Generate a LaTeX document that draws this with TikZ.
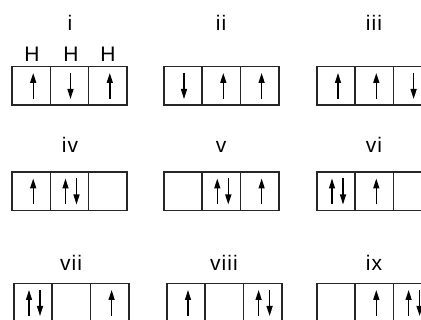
\documentclass[tikz,border=0pt]{standalone}
\usepackage{fontspec}
\newfontfamily\labfont[LetterSpace=5]{Liberation Sans}
\usetikzlibrary{positioning, arrows.meta}

\tikzset{
  cell/.style={rectangle, draw=black!85, line width=1.5pt, minimum width=38.3pt, minimum height=38.5pt, inner sep=0pt, outer sep=0pt},
  lab/.style={font=\labfont\fontsize{21}{24}\selectfont, inner sep=0pt, anchor=base},
  spin/.style={line width=1.4pt, -{Triangle[length=10pt, width=6pt]}},
  spinup/.pic={\draw[spin] (2,13) -- (2,-13);},
  spindown/.pic={\draw[spin] (1,-13) -- (1,13);},
  spinpair/.pic={\draw[spin] (-4,13) -- (-4,-13); \draw[spin] (7,-13) -- (7,13);}
}

\begin{document}
\begin{tikzpicture}[x=1pt, y=-1pt]
        \useasboundingbox (0,0) rectangle (421,320);

        % row 1
        \node[cell] (i-1) at (31.2,86) {};
        \node[cell, right=0pt of i-1] (i-2) {};
        \node[cell, right=0pt of i-2] (i-3) {};
        \node[cell] (ii-1) at (183,86) {};
        \node[cell, right=0pt of ii-1] (ii-2) {};
        \node[cell, right=0pt of ii-2] (ii-3) {};
        \node[cell] (iii-1) at (336,86) {};
        \node[cell, right=0pt of iii-1] (iii-2) {};
        \node[cell, right=0pt of iii-2] (iii-3) {};

        \node[lab] (li) at (70,31) {i};
        \node[lab] (lii) at (221,31) {ii};
        \node[lab] (liii) at (374,31) {iii};
        \node[lab] (h1) at (32,62) {H};
        \node[lab] (h2) at (71,62) {H};
        \node[lab] (h3) at (108,62) {H};

        \pic at (i-1) {spinup};
        \pic at (i-2) {spindown};
        \pic at (i-3) {spinup};
        \pic at (ii-1) {spindown};
        \pic at (ii-2) {spinup};
        \pic at (ii-3) {spinup};
        \pic at (iii-1) {spinup};
        \pic at (iii-2) {spinup};
        \pic at (iii-3) {spindown};

        % row 2
        \node[cell] (iv-1) at (31.2,191.5) {};
        \node[cell, right=0pt of iv-1] (iv-2) {};
        \node[cell, right=0pt of iv-2] (iv-3) {};
        \node[cell] (v-1) at (183,191.5) {};
        \node[cell, right=0pt of v-1] (v-2) {};
        \node[cell, right=0pt of v-2] (v-3) {};
        \node[cell] (vi-1) at (336,191.5) {};
        \node[cell, right=0pt of vi-1] (vi-2) {};
        \node[cell, right=0pt of vi-2] (vi-3) {};

        \node[lab] (liv) at (70,153) {iv};
        \node[lab] (lv) at (221,153) {v};
        \node[lab] (lvi) at (374,153) {vi};

        \pic at (iv-1) {spinup};
        \pic at (iv-2) {spinpair};
        \pic at (v-2) {spinpair};
        \pic at (v-3) {spinup};
        \pic at (vi-1) {spinpair};
        \pic at (vi-2) {spinup};

        % row 3
        \node[cell] (vii-1) at (33,303) {};
        \node[cell, right=0pt of vii-1] (vii-2) {};
        \node[cell, right=0pt of vii-2] (vii-3) {};
        \node[cell] (viii-1) at (186,303) {};
        \node[cell, right=0pt of viii-1] (viii-2) {};
        \node[cell, right=0pt of viii-2] (viii-3) {};
        \node[cell] (ix-1) at (336,303) {};
        \node[cell, right=0pt of ix-1] (ix-2) {};
        \node[cell, right=0pt of ix-2] (ix-3) {};

        \node[lab] (lvii) at (71,271) {vii};
        \node[lab] (lviii) at (224,271) {viii};
        \node[lab] (lix) at (374,271) {ix};

        \pic at (vii-1) {spinpair};
        \pic at (vii-3) {spinup};
        \pic at (viii-1) {spinup};
        \pic at (viii-3) {spinpair};
        \pic at (ix-2) {spinup};
        \pic at (ix-3) {spinpair};
      \end{tikzpicture}
\end{document}
